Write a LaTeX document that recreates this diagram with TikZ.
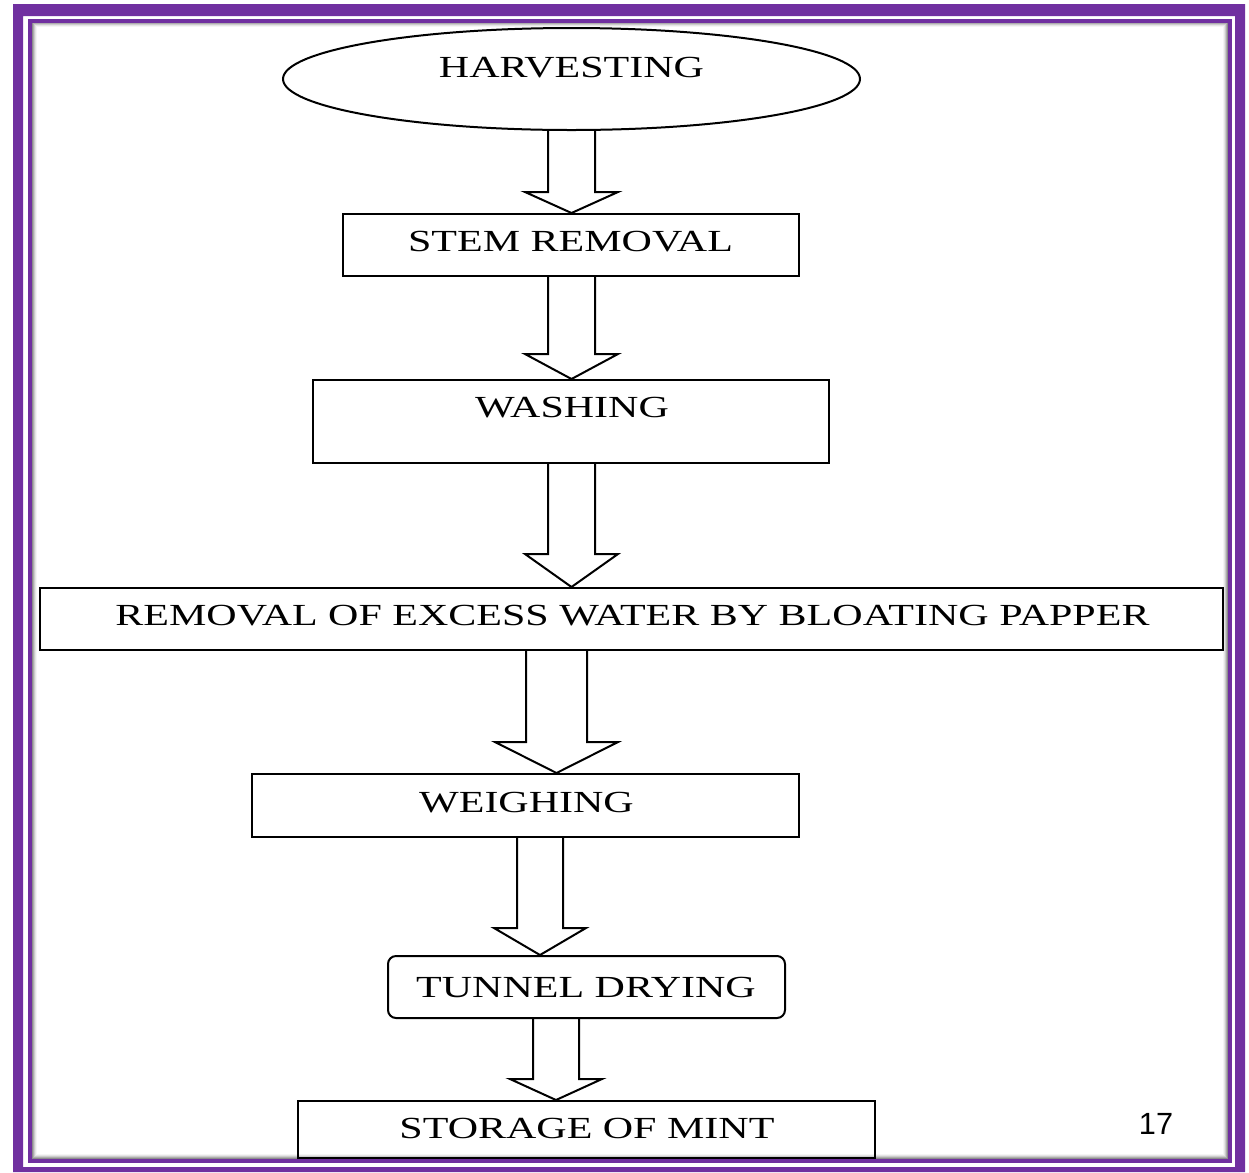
\documentclass[tikz,border=0pt]{standalone}
\usepackage{fontspec}
\setmainfont{Liberation Serif}
\newfontfamily\numfont{Liberation Sans}
\usetikzlibrary{shapes.geometric,calc}
\definecolor{frpurple}{RGB}{112,48,160}
\newcommand{\T}[1]{\scalebox{1.37}[1]{#1}}
\newcommand{\blockarrow}[6]{%
  \draw[barrow] ($(#1.south -| #3)+(-#4,0)$) -- ($(#2.north -| #3)+(-#4,-#6)$)
    -- ($(#2.north -| #3)+(-#5,-#6)$) -- (#2.north -| #3)
    -- ($(#2.north -| #3)+(#5,-#6)$) -- ($(#2.north -| #3)+(#4,-#6)$)
    -- ($(#1.south -| #3)+(#4,0)$);}
\begin{document}
\begin{tikzpicture}[x=0.75pt,y=-0.75pt,
  box/.style={draw, line width=1.5pt, inner sep=0pt},
  barrow/.style={draw, line width=1.5pt, line join=miter},
  lbl/.style={inner sep=0pt, font=\fontsize{23pt}{27pt}\selectfont},
  pgnum/.style={inner sep=0pt, font=\numfont\fontsize{23pt}{27pt}\selectfont}]
\useasboundingbox (0,0) rectangle (1249,1172);
% frame
\fill[frpurple, even odd rule] (13,4) rectangle (1245,1172) (23,16) rectangle (1235,1167);
\foreach \i/\o in {0/0.45,1/0.32,2/0.2,3/0.1,4/0.04}
  \draw[black, opacity=\o, line width=0.75pt] (32.5+\i,22.5+\i) rectangle (1227.5-\i,1158-\i);
\draw[frpurple, line width=3pt] (30,20.5) rectangle (1230,1160.5);
% boxes
\node[ellipse, draw, line width=1.5pt, inner sep=0pt, minimum width=577*0.75pt, minimum height=102*0.75pt] (harv) at (571.5,79) {};
\node[box, minimum width=456*0.75pt, minimum height=62*0.75pt] (stem) at (571,245) {};
\node[box, minimum width=516*0.75pt, minimum height=83*0.75pt] (wash) at (571,421.5) {};
\node[box, minimum width=1183*0.75pt, minimum height=62*0.75pt] (remv) at (631.5,619) {};
\node[box, minimum width=547*0.75pt, minimum height=63*0.75pt] (weigh) at (525.5,805.5) {};
\node[box, rounded corners=6pt, minimum width=397*0.75pt, minimum height=62*0.75pt] (tunnel) at (586.5,987) {};
\node[box, minimum width=577*0.75pt, minimum height=57*0.75pt] (store) at (586.5,1129.5) {};
% labels
\node[lbl] (tharv) at (571.5,68) {\T{HARVESTING}};
\node[lbl] (tstem) at (570.5,242) {\T{STEM REMOVAL}};
\node[lbl] (twash) at (572,408) {\T{WASHING}};
\node[lbl] (tremv) at (632.5,616) {\T{REMOVAL OF EXCESS WATER BY BLOATING PAPPER}};
\node[lbl] (tweigh) at (526.5,803) {\T{WEIGHING}};
\node[lbl] (ttunnel) at (586,987) {\T{TUNNEL DRYING}};
\node[lbl] (tstore) at (587,1128) {\T{STORAGE OF MINT}};
\node[pgnum] (pg) at (1156,1124) {17};
% arrows
\coordinate (xa) at (571.5,0);
\coordinate (xb) at (556.5,0);
\coordinate (xc) at (540,0);
\coordinate (xd) at (556,0);
\blockarrow{harv}{stem}{xa}{23.5}{46.5}{21}
\blockarrow{stem}{wash}{xa}{23.5}{46.5}{25}
\blockarrow{wash}{remv}{xa}{23.5}{46.5}{33}
\blockarrow{remv}{weigh}{xb}{30.5}{61.5}{31}
\blockarrow{weigh}{tunnel}{xc}{23}{46}{27}
\blockarrow{tunnel}{store}{xd}{23}{46}{21}
\end{tikzpicture}
\end{document}
